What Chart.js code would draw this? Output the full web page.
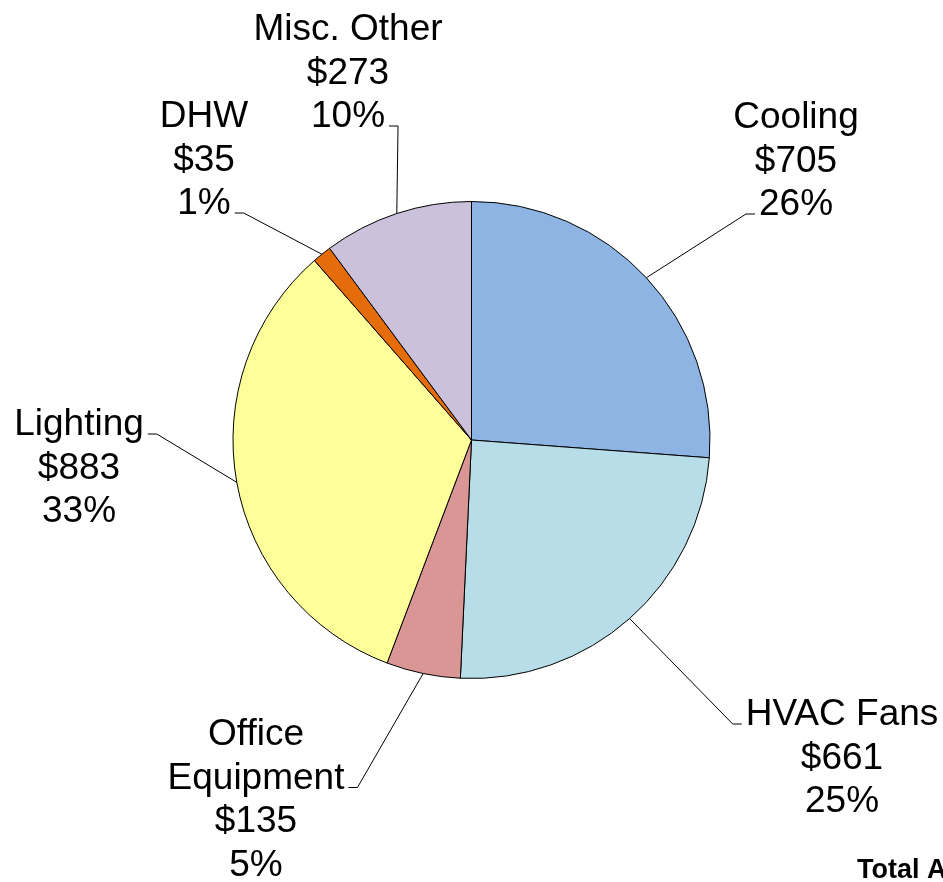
<!DOCTYPE html>
<html>
<head>
<meta charset="utf-8">
<script src="https://cdn.jsdelivr.net/npm/chart.js@4"></script>
<style>
  body { margin: 0; background: #fff; }
  canvas { display: block; }
</style>
</head>
<body>
<canvas id="costChart" width="943" height="882"></canvas>
<script>
// End uses, clockwise from 12 o'clock
const categories = ["Cooling", "HVAC Fans", "Office Equipment", "Lighting", "DHW", "Misc. Other"];
const labelLines = [["Cooling"], ["HVAC Fans"], ["Office", "Equipment"], ["Lighting"], ["DHW"], ["Misc. Other"]];
const costs = [705, 661, 135, 883, 35, 273];
const sliceColors = ["#8EB4E3", "#B7DEE8", "#D99694", "#FFFF99", "#E46C0A", "#CCC1DA"];

const total = costs.reduce((a, b) => a + b, 0);

// where each label block sits, relative to the pie centre (text centre x, first baseline y)
// line = which text line the leader attaches to, side = which side of that line
const labelPlacement = [
    { dx: 324.5, dy: -312, line: 2, side: "left" },
    { dx: 370.5, dy: 285, line: 0, side: "left" },
    { dx: -215.5, dy: 305, line: 1, side: "right" },
    { dx: -392.5, dy: -5, line: 0, side: "right" },
    { dx: -267.5, dy: -313, line: 2, side: "right" },
    { dx: -123.5, dy: -400, line: 2, side: "right" },
];

const FONT = '37px "Liberation Sans", Arial, sans-serif';
const LINE_H = 43.5;

const leaderLabels = {
    id: "leaderLabels",
    afterDatasetsDraw(chart) {
        const ctx = chart.ctx;
        const arcs = chart.getDatasetMeta(0).data;
        ctx.save();
        ctx.font = FONT;
        ctx.fillStyle = "#000";
        ctx.strokeStyle = "#000";
        ctx.lineWidth = 1;
        ctx.textAlign = "center";
        ctx.textBaseline = "alphabetic";

        arcs.forEach((arc, i) => {
            const p = arc.getProps(["x", "y", "startAngle", "endAngle", "outerRadius"], true);
            const mid = (p.startAngle + p.endAngle) / 2;
            const ax = p.x + Math.cos(mid) * p.outerRadius;
            const ay = p.y + Math.sin(mid) * p.outerRadius;

            const place = labelPlacement[i];
            const cx = p.x + place.dx;
            const y0 = p.y + place.dy;
            const lines = labelLines[i].concat(["$" + costs[i], Math.round(costs[i] / total * 100) + "%"]);

            lines.forEach((t, k) => ctx.fillText(t, cx, y0 + k * LINE_H));

            // leader: short horizontal tick by the text, then straight to the slice edge
            const w = ctx.measureText(lines[place.line]).width;
            const ly = y0 + place.line * LINE_H - 1;
            const dir = place.side === "left" ? -1 : 1;
            const x1 = cx + dir * (w / 2 + 4);
            const x2 = x1 + dir * 9;
            ctx.beginPath();
            ctx.moveTo(x1, ly);
            ctx.lineTo(x2, ly);
            ctx.lineTo(ax, ay);
            ctx.stroke();
        });

        // footer note, runs off the right edge in the original
        ctx.font = 'bold 27px "Liberation Sans", Arial, sans-serif';
        ctx.textAlign = "left";
        ctx.fillText("Total A", 857, 878);
        ctx.restore();
    }
};

new Chart(document.getElementById("costChart"), {
    type: "pie",
    data: {
        labels: categories,
        datasets: [{
            data: costs,
            backgroundColor: sliceColors,
            borderColor: "#000",
            borderWidth: 1,
        }],
    },
    options: {
        responsive: false,
        animation: false,
        layout: {
            padding: { top: 201, bottom: 203 },
        },
        plugins: {
            legend: { display: false },
            tooltip: { enabled: false },
        },
    },
    plugins: [leaderLabels],
});
</script>
</body>
</html>
